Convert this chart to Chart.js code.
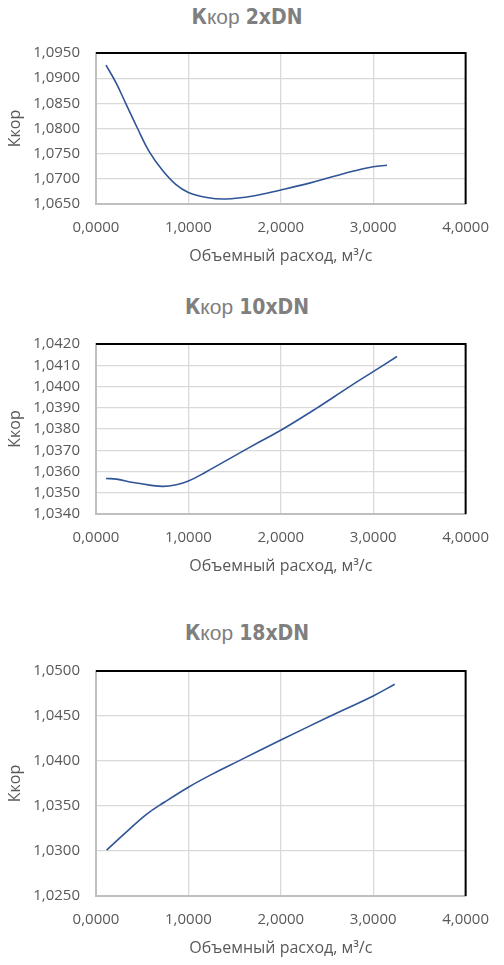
<!DOCTYPE html>
<html>
<head>
<meta charset="utf-8">
<script src="https://cdn.jsdelivr.net/npm/chart.js@4.4.1/dist/chart.umd.min.js"></script>
<style>
  body { margin: 0; background: #fff; width: 504px; height: 965px; position: relative; overflow: hidden; }
  .title { position: absolute; left: 0; width: 494px; text-align: center; color: #7f7f7f;
           font-family: "DejaVu Sans Condensed", "DejaVu Sans", sans-serif; font-size: 21px; line-height: 24px; }
  .title b { font-weight: bold; }
  .title span { font-family: "Liberation Sans", sans-serif; font-weight: normal; }
  canvas { position: absolute; left: 0; }
</style>
</head>
<body>
<div class="title" style="top:5px"><b>К</b><span>кор</span> <b>2xDN</b></div>
<canvas id="c1" width="504" height="238" style="top:28px"></canvas>
<div class="title" style="top:295px"><b>К</b><span>кор</span> <b>10xDN</b></div>
<canvas id="c2" width="504" height="257" style="top:319px"></canvas>
<div class="title" style="top:621px"><b>К</b><span>кор</span> <b>18xDN</b></div>
<canvas id="c3" width="504" height="312" style="top:646px"></canvas>
<script>
// расход, м3/с
const flow2 = [0.108, 0.216, 0.324, 0.45, 0.576, 0.719, 0.863, 1.0, 1.20, 1.40, 1.70, 2.0, 2.30, 2.556, 2.80, 3.0, 3.149];
const kkor2 = [1.0926, 1.0891, 1.0849, 1.0800, 1.0754, 1.0717, 1.0689, 1.0673, 1.0663, 1.0660, 1.0666, 1.0678, 1.0691, 1.0704, 1.0716, 1.0724, 1.0727];

const flow10 = [0.108, 0.223, 0.402, 0.582, 0.725, 0.869, 1.0, 1.19, 1.48, 1.767, 2.0, 2.377, 2.736, 3.0, 3.257];
const kkor10 = [1.03567, 1.03564, 1.03548, 1.03536, 1.03530, 1.03538, 1.03555, 1.03598, 1.03669, 1.03739, 1.03794, 1.03895, 1.03997, 1.04070, 1.04141];

const flow18 = [0.115, 0.330, 0.546, 0.743, 1.0, 1.264, 1.551, 2.0, 2.52, 3.0, 3.232];
const kkor18 = [1.03009, 1.03212, 1.03407, 1.03544, 1.03709, 1.03857, 1.04004, 1.04233, 1.04491, 1.04723, 1.04852];

const xTicks = [0, 1, 2, 3, 4];
const yRange2 = [1.065, 1.095, 0.005];
const yRange10 = [1.034, 1.042, 0.001];
const yRange18 = [1.025, 1.050, 0.005];

const tickFont = { family: 'Open Sans', size: 15 };
const titleFont = { family: 'Open Sans', size: 16 };
const fmt = v => Number(v).toFixed(4).replace('.', ',');

// верхняя и правая рамка черные, как в Excel
const frame = {
    id: 'frame',
    afterDraw(chart) {
        const a = chart.chartArea, c = chart.ctx;
        c.save();
        c.strokeStyle = '#000';
        c.lineWidth = 2;
        c.beginPath();
        c.moveTo(a.left, a.top);
        c.lineTo(a.right, a.top);
        c.lineTo(a.right, a.bottom);
        c.stroke();
        c.restore();
    }
};

function makeChart(id, xs, ys, yr) {
    new Chart(document.getElementById(id), {
        type: 'line',
        data: {
            datasets: [{
                data: xs.map((x, i) => ({ x: x, y: ys[i] })),
                borderColor: '#2f5597',
                borderWidth: 1.6,
                pointRadius: 0,
                tension: 0.4,
                fill: false
            }]
        },
        options: {
            responsive: false,
            animation: false,
            layout: { padding: { top: 12, right: 37, left: 6, bottom: 0 } },
            plugins: { legend: { display: false }, tooltip: { enabled: false } },
            scales: {
                x: {
                    type: 'linear',
                    min: xTicks[0],
                    max: xTicks[xTicks.length - 1],
                    afterBuildTicks: s => { s.ticks = xTicks.map(v => ({ value: v })); },
                    ticks: { color: '#595959', font: tickFont, padding: 15, maxRotation: 0, autoSkip: false, callback: fmt },
                    grid: { color: '#d9d9d9', lineWidth: 1.3, drawTicks: false },
                    border: { color: '#bfbfbf', width: 2 },
                    title: { display: true, text: 'Объемный расход, м³/с', color: '#595959',
                             font: titleFont, padding: { top: 4, bottom: 0 } },
                    afterFit: s => { s.height = 62; }
                },
                y: {
                    min: yr[0],
                    max: yr[1],
                    ticks: { stepSize: yr[2], color: '#595959', font: tickFont, padding: 16, autoSkip: false, callback: fmt },
                    grid: { color: '#d9d9d9', lineWidth: 1.3, drawTicks: false },
                    border: { color: '#bfbfbf', width: 2 },
                    title: { display: true, text: 'Ккор', color: '#595959', font: titleFont, padding: 0 },
                    afterFit: s => { s.width = 90; }
                }
            }
        },
        plugins: [frame]
    });
}

makeChart('c1', flow2, kkor2, yRange2);
makeChart('c2', flow10, kkor10, yRange10);
makeChart('c3', flow18, kkor18, yRange18);
</script>
</body>
</html>
